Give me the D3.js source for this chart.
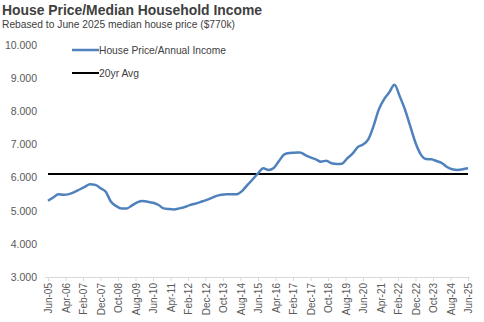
<!DOCTYPE html>
<html><head><meta charset="utf-8">
<script src="https://cdn.jsdelivr.net/npm/d3@7"></script>
<style>body{margin:0;background:#fff}svg{display:block}</style>
</head><body>
<script>
// Quarterly data, months since Jun-05
const months = d3.range(0, 241, 3);
const ratio = [5.30,5.40,5.50,5.48,5.50,5.56,5.64,5.72,5.80,5.78,5.68,5.57,5.27,5.14,5.07,5.07,5.16,5.25,5.29,5.27,5.24,5.18,5.07,5.05,5.04,5.07,5.11,5.17,5.21,5.26,5.31,5.37,5.44,5.48,5.50,5.50,5.50,5.60,5.78,5.95,6.13,6.28,6.23,6.29,6.50,6.70,6.74,6.75,6.76,6.68,6.61,6.55,6.48,6.51,6.43,6.41,6.42,6.58,6.72,6.92,7.00,7.15,7.55,8.05,8.36,8.57,8.80,8.45,8.05,7.55,7.05,6.70,6.56,6.55,6.50,6.44,6.32,6.25,6.23,6.25,6.28];
const avg20 = 6.11;
const tickLabels = ["Jun-05","Apr-06","Feb-07","Dec-07","Oct-08","Aug-09","Jun-10","Apr-11","Feb-12","Dec-12","Oct-13","Aug-14","Jun-15","Apr-16","Feb-17","Dec-17","Oct-18","Aug-19","Jun-20","Apr-21","Feb-22","Dec-22","Oct-23","Aug-24","Jun-25"];
const yTicks = [3,4,5,6,7,8,9,10];
const seriesNames = ["House Price/Annual Income","20yr Avg"];
const title = "House Price/Median Household Income";
const subtitle = "Rebased to June 2025 median house price ($770k)";

const W = 484, H = 322;
const font = "'Liberation Sans', Arial, sans-serif";
const svg = d3.select("body").append("svg").attr("width", W).attr("height", H);

const x = d3.scaleLinear().domain([0, 240]).range([48, 468]);
const y = d3.scaleLinear().domain([3, 10]).range([277, 45]);

svg.append("text").attr("x", 2).attr("y", 15).text(title)
  .attr("font-family", font).attr("font-weight", "bold").attr("font-size", 14).attr("fill", "#404040")
  .attr("textLength", 260).attr("lengthAdjust", "spacingAndGlyphs");
svg.append("text").attr("x", 2).attr("y", 28).text(subtitle)
  .attr("font-family", font).attr("font-size", 11.5).attr("fill", "#404040")
  .attr("textLength", 233).attr("lengthAdjust", "spacingAndGlyphs");

// y axis labels
const ya = svg.append("g").attr("transform", "translate(37,0)")
  .call(d3.axisLeft(y).tickValues(yTicks).tickFormat(d3.format(".3f")).tickSize(0).tickPadding(0));
ya.select(".domain").remove();
ya.selectAll("text").attr("font-family", font).attr("font-size", 10.5).attr("fill", "#595959");

// x axis
const xa = svg.append("g").attr("transform", "translate(0,277)")
  .call(d3.axisBottom(x).tickValues(d3.range(0, 241, 10)).tickFormat((d, i) => tickLabels[i]).tickSize(4).tickSizeOuter(0));
xa.select(".domain").attr("stroke", "#d9d9d9").attr("d", "M45,0.5H470");
xa.selectAll(".tick line").attr("stroke", "#d9d9d9");
xa.selectAll("text").attr("font-family", font).attr("font-size", 10).attr("fill", "#595959")
  .attr("transform", "rotate(-90)").attr("text-anchor", "end").attr("dx", "-6").attr("dy", "0.35em").attr("y", 0).attr("x", 0);

// avg line
svg.append("line").attr("x1", x(0)).attr("x2", x(240)).attr("y1", y(avg20)).attr("y2", y(avg20))
  .attr("stroke", "#000").attr("stroke-width", 2);

// series
const line = d3.line().x((d, i) => x(months[i])).y(d => y(d)).curve(d3.curveMonotoneX);
svg.append("path").datum(ratio).attr("d", line).attr("fill", "none")
  .attr("stroke", "#4f81bd").attr("stroke-width", 2.5).attr("stroke-linejoin", "round");

// legend
const leg = [{c: "#4f81bd", w: 2.5, yy: 50, len: 127}, {c: "#000", w: 2, yy: 73, len: 40}];
leg.forEach((l, i) => {
  svg.append("line").attr("x1", 72).attr("x2", 99).attr("y1", l.yy).attr("y2", l.yy).attr("stroke", l.c).attr("stroke-width", l.w);
  svg.append("text").attr("x", 99).attr("y", l.yy + 3.5).text(seriesNames[i])
    .attr("font-family", font).attr("font-size", 10.5).attr("fill", "#404040")
    .attr("textLength", l.len).attr("lengthAdjust", "spacingAndGlyphs");
});
</script>
</body></html>
